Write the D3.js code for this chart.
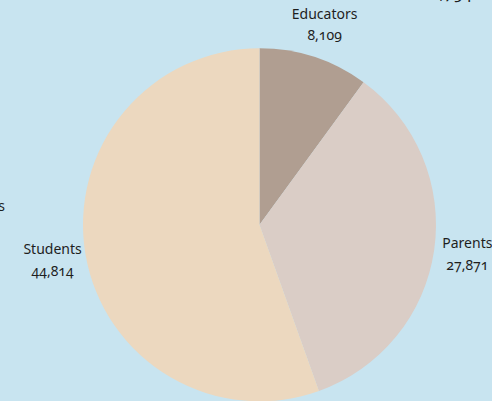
<!DOCTYPE html>
<html>
<head>
<meta charset="utf-8">
<script src="https://cdn.jsdelivr.net/npm/d3@7"></script>
<style>
  html, body { margin: 0; padding: 0; background: #c8e4f0; overflow: hidden; }
  svg text { font-family: "Noto Sans", "Open Sans", sans-serif; fill: #1e1e1e;
             font-feature-settings: "onum" 1; font-variant-numeric: oldstyle-nums; }
</style>
</head>
<body>
<svg id="chart" width="492" height="401"></svg>
<script>
// Survey respondents by group
const categories = ["Educators", "Parents", "Students"];
const values = [8109, 27871, 44814];
const colors = ["#b09e91", "#dacdc6", "#ecd8bf"];
const totalLabel = "80,794";
const neighbourLabel = "Educators";

const width = 492, height = 401;
const svg = d3.select("#chart");
const cx = 259.5, cy = 224.8, radius = 176.5;
const fmt = d3.format(",");

const pie = d3.pie().sort(null).value(d => d.value);
const arcs = pie(categories.map((c, i) => ({ name: c, value: values[i], color: colors[i] })));

const arc = d3.arc().innerRadius(0).outerRadius(radius);
const labelArc = d3.arc().innerRadius(210).outerRadius(210);

const g = svg.append("g").attr("transform", `translate(${cx},${cy})`);

g.selectAll("path.slice")
  .data(arcs)
  .join("path")
  .attr("class", "slice")
  .attr("d", arc)
  .attr("fill", d => d.data.color);

const labels = g.selectAll("text.label")
  .data(arcs)
  .join("text")
  .attr("class", "label")
  .attr("text-anchor", "middle")
  .attr("font-size", 14)
  .attr("transform", d => `translate(${labelArc.centroid(d)})`);

labels.append("tspan").attr("x", 0).attr("y", -6.5).text(d => d.data.name);
labels.append("tspan").attr("x", 0).attr("y", 15).text(d => fmt(d.data.value));

// Overall total sitting above the plot edge
svg.append("text")
  .attr("x", 472).attr("y", -1)
  .attr("text-anchor", "end")
  .attr("font-size", 17)
  .text(totalLabel);

// Label of the adjacent panel at the left edge
svg.append("text")
  .attr("x", 5).attr("y", 211)
  .attr("text-anchor", "end")
  .attr("font-size", 14)
  .text(neighbourLabel);
</script>
</body>
</html>
